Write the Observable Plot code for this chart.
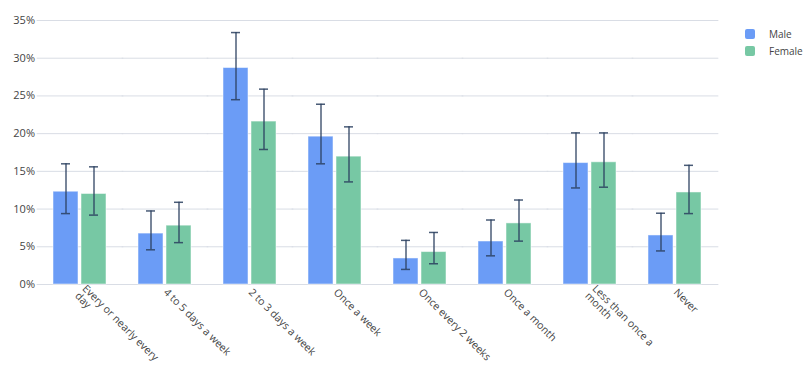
<!DOCTYPE html>
<html>
<head>
<meta charset="utf-8">
<script src="https://cdn.jsdelivr.net/npm/d3@7"></script>
<script src="https://cdn.jsdelivr.net/npm/@observablehq/plot@0.6"></script>
<style>
  html, body { margin: 0; padding: 0; background: #fff; }
  #wrap { position: relative; width: 810px; height: 380px; font-family: "Open Sans", sans-serif; }
  #legend { position: absolute; left: 745px; top: 26px; font-size: 10px; color: #444; }
  .item { display: flex; align-items: center; height: 16.5px; }
  .sw { width: 10px; height: 10px; border-radius: 2px; margin-right: 14px; }
</style>
</head>
<body>
<div id="wrap"><div id="legend"></div></div>
<script>
const categories = ["Every or nearly every day", "4 to 5 days a week", "2 to 3 days a week", "Once a week", "Once every 2 weeks", "Once a month", "Less than once a month", "Never"];
const tickLabels = ["Every or nearly every\nday", "4 to 5 days a week", "2 to 3 days a week", "Once a week", "Once every 2 weeks", "Once a month", "Less than once a\nmonth", "Never"];
const series = ["Male", "Female"];
const maleValues = [12.3, 6.75, 28.7, 19.6, 3.45, 5.7, 16.1, 6.5];
const maleLow = [9.4, 4.6, 24.5, 16.0, 2.0, 3.8, 12.8, 4.45];
const maleHigh = [16.0, 9.75, 33.4, 23.9, 5.85, 8.55, 20.1, 9.45];
const femaleValues = [12.0, 7.8, 21.6, 16.95, 4.3, 8.1, 16.2, 12.2];
const femaleLow = [9.2, 5.55, 17.9, 13.6, 2.75, 5.75, 12.9, 9.4];
const femaleHigh = [15.6, 10.9, 25.9, 20.9, 6.9, 11.2, 20.1, 15.8];
const yTicks = [0, 5, 10, 15, 20, 25, 30, 35];
const colors = ["#6b9cf6", "#77c8a4"];

const data = [];
categories.forEach((c, i) => {
  data.push({cat: c, sex: "Male", value: maleValues[i], lo: maleLow[i], hi: maleHigh[i]});
  data.push({cat: c, sex: "Female", value: femaleValues[i], lo: femaleLow[i], hi: femaleHigh[i]});
});
const labelOf = new Map(categories.map((c, i) => [c, tickLabels[i]]));

// facet band geometry; the per-facet grid lines are extended over the gaps so they join up
const mLeft = 35, mRight = 91;
const W = 810 - mLeft - mRight, pIn = 0.37, pOut = 0.175;
const step = W / (categories.length - pIn + 2 * pOut);
const gapHalf = Math.max(pIn * step / 2, pOut * step) + 0.5;
const outer = pOut * step;

const chart = Plot.plot({
  width: 810,
  height: 380,
  marginLeft: mLeft,
  marginRight: mRight,
  marginTop: 20,
  marginBottom: 96,
  style: {fontFamily: "Open Sans", fontSize: "11px", color: "#444", background: "transparent"},
  fx: {domain: categories, paddingInner: pIn, paddingOuter: pOut, label: null, axis: null},
  x: {domain: series, paddingInner: 0.1, paddingOuter: 0, axis: null},
  y: {domain: [0, 35], label: null, axis: null},
  color: {domain: series, range: colors},
  marks: [
    Plot.ruleY(yTicks, {stroke: "#d9dde5", strokeWidth: 1, insetLeft: -gapHalf, insetRight: -gapHalf}),
    Plot.axisY({ticks: yTicks, tickSize: 0, tickPadding: outer + 3.5, tickFormat: d => d + "%", label: null, fontSize: 11}),
    Plot.axisFx({anchor: "bottom", tickRotate: 45, tickSize: 0, tickPadding: 6, tickFormat: d => labelOf.get(d), label: null, fontSize: 10.5}),
    Plot.barY(data, {fx: "cat", x: "sex", y: "value", fill: "sex", stroke: "white", strokeOpacity: 0.5, strokeWidth: 1}),
    Plot.ruleX(data, {fx: "cat", x: "sex", y1: "lo", y2: "hi", stroke: "#2a3f5f", strokeWidth: 1.5, strokeOpacity: 0.85}),
    Plot.tickY(data, {fx: "cat", x: "sex", y: "lo", stroke: "#2a3f5f", strokeWidth: 1.5, strokeOpacity: 0.85, insetLeft: 8, insetRight: 8}),
    Plot.tickY(data, {fx: "cat", x: "sex", y: "hi", stroke: "#2a3f5f", strokeWidth: 1.5, strokeOpacity: 0.85, insetLeft: 8, insetRight: 8})
  ]
});
document.getElementById("wrap").prepend(chart);

const legend = document.getElementById("legend");
series.forEach((s, i) => {
  const item = document.createElement("div");
  item.className = "item";
  const sw = document.createElement("span");
  sw.className = "sw";
  sw.style.background = colors[i];
  const t = document.createElement("span");
  t.textContent = s;
  item.append(sw, t);
  legend.append(item);
});
</script>
</body>
</html>
